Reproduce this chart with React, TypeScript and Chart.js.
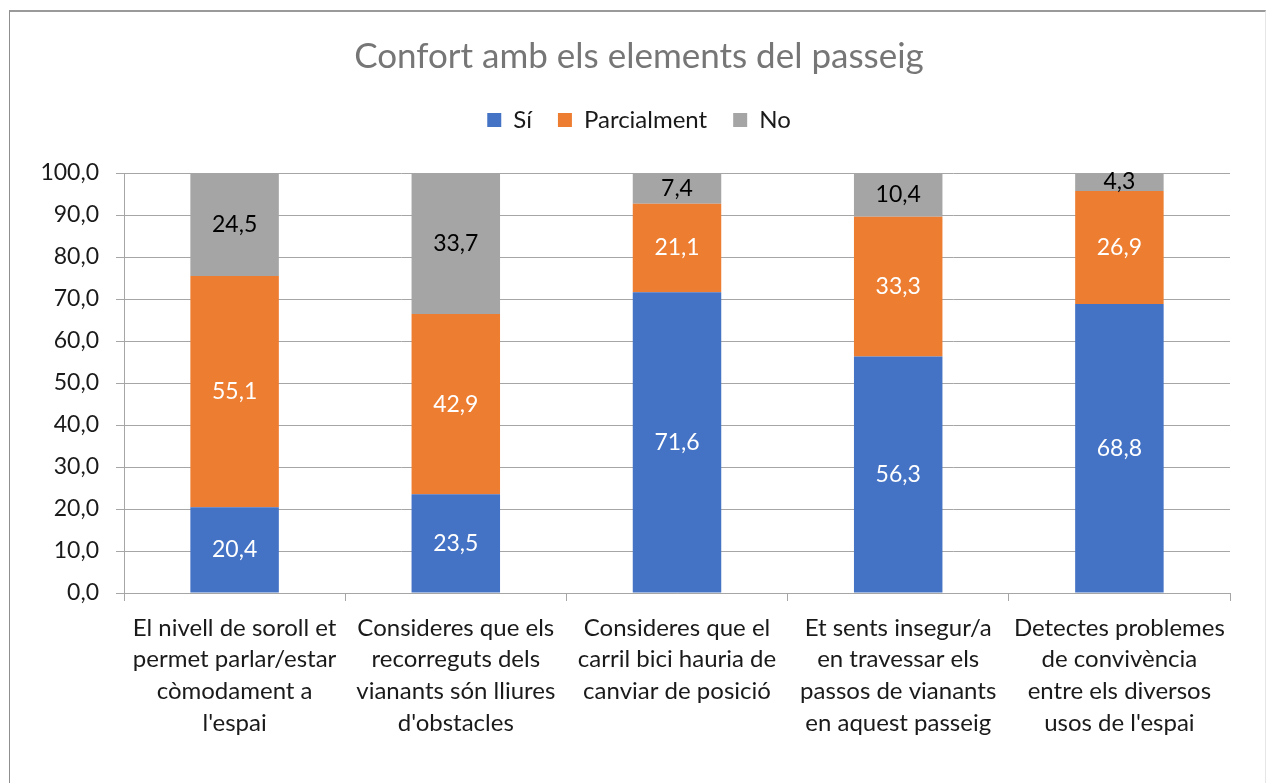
import React, { useEffect, useRef } from "react";
import { Chart, registerables } from "chart.js";

Chart.register(...registerables);

const categories: string[][] = [
  ["El nivell de soroll et", "permet parlar/estar", "còmodament a", "l'espai"],
  ["Consideres que els", "recorreguts dels", "vianants són lliures", "d'obstacles"],
  ["Consideres que el", "carril bici hauria de", "canviar de posició"],
  ["Et sents insegur/a", "en travessar els", "passos de vianants", "en aquest passeig"],
  ["Detectes problemes", "de convivència", "entre els diversos", "usos de l'espai"],
];
const siValues = [20.4, 23.5, 71.6, 56.3, 68.8];
const parcialValues = [55.1, 42.9, 21.1, 33.3, 26.9];
const noValues = [24.5, 33.7, 7.4, 10.4, 4.3];
const seriesNames = ["Sí", "Parcialment", "No"];
const titleText = "Confort amb els elements del passeig";

const FONT = "Lato";
const fmt = (v: number) => v.toFixed(1).replace(".", ",");
const labelColors = ["#ffffff", "#ffffff", "#000000"];

const valueLabelPlugin = {
  id: "valueLabels",
  afterDatasetsDraw(chart: any) {
    const ctx = chart.ctx;
    ctx.save();
    ctx.font = `23px ${FONT}`;
    ctx.textAlign = "center";
    ctx.textBaseline = "middle";
    chart.data.datasets.forEach((ds: any, di: number) => {
      const meta = chart.getDatasetMeta(di);
      meta.data.forEach((bar: any, i: number) => {
        const { x, y, base } = bar.getProps(["x", "y", "base"], true);
        ctx.fillStyle = labelColors[di];
        ctx.fillText(fmt(ds.data[i]), x, (y + base) / 2);
      });
    });
    ctx.restore();
  },
};

export default function App() {
  const ref = useRef<HTMLCanvasElement>(null);
  useEffect(() => {
    if (!ref.current) return;
    const chart = new Chart(ref.current, {
      type: "bar",
      data: {
        labels: categories,
        datasets: [
          { label: seriesNames[0], data: siValues, backgroundColor: "#4472C4" },
          { label: seriesNames[1], data: parcialValues, backgroundColor: "#ED7D31" },
          { label: seriesNames[2], data: noValues, backgroundColor: "#A5A5A5" },
        ],
      },
      options: {
        responsive: false,
        animation: false,
        layout: { padding: { top: 10, left: 10, right: 0, bottom: 0 } },
        datasets: { bar: { barPercentage: 0.4, categoryPercentage: 1 } },
        plugins: {
          tooltip: { enabled: false },
          title: {
            display: true,
            text: titleText,
            color: "#767676",
            font: { family: FONT, size: 35, weight: "normal", lineHeight: 1.2 },
            padding: { top: 26, bottom: 4 },
          },
          subtitle: {
            display: true,
            text: " ",
            weight: 500,
            font: { family: FONT, size: 1, lineHeight: 1 },
            padding: { top: 30, bottom: 0 },
          } as any,
          legend: {
            display: true,
            position: "top",
            labels: {
              color: "#1a1a1a",
              font: { family: FONT, size: 24 },
              boxWidth: 14,
              boxHeight: 14,
              padding: 26,
            },
          },
        },
        scales: {
          x: {
            stacked: true,
            grid: {
              drawOnChartArea: false,
              drawTicks: true,
              tickLength: 8,
              color: "#a6a6a6",
            },
            border: { color: "#a6a6a6" },
            ticks: {
              color: "#1a1a1a",
              font: { family: FONT, size: 24, lineHeight: 1.32 },
              padding: 11,
              maxRotation: 0,
              autoSkip: false,
            },
            afterFit: (s: any) => {
              s.height = 190;
            },
          },
          y: {
            stacked: true,
            min: 0,
            max: 100,
            ticks: {
              stepSize: 10,
              color: "#1a1a1a",
              font: { family: FONT, size: 23 },
              padding: 17,
              callback: (v: any) => fmt(Number(v)),
            },
            grid: { color: "#a6a6a6", tickLength: 8 },
            border: { color: "#a6a6a6" },
            afterFit: (s: any) => {
              s.width = 114;
            },
          },
          yRightSpace: {
            type: "linear",
            position: "right",
            display: true,
            min: 0,
            max: 100,
            grid: { display: false, drawOnChartArea: false },
            border: { display: false },
            ticks: { display: false },
            afterFit: (s: any) => {
              s.width = 38;
            },
          },
        },
      },
      plugins: [valueLabelPlugin],
    });
    return () => chart.destroy();
  }, []);

  return (
    <div style={{ position: "absolute", left: 0, top: 0, width: 1268, height: 783, background: "#fff", overflow: "hidden" }}>
      <div
        style={{
          position: "absolute",
          left: 9,
          top: 10,
          width: 1257,
          height: 800,
          borderLeft: "1px solid #8f8f8f",
          borderTop: "2px solid #9a9a9a",
          borderRight: "1px solid #e6e6e6",
          boxSizing: "border-box",
        }}
      />
      <canvas ref={ref} width={1268} height={783} style={{ position: "absolute", left: 0, top: 0 }} />
    </div>
  );
}
